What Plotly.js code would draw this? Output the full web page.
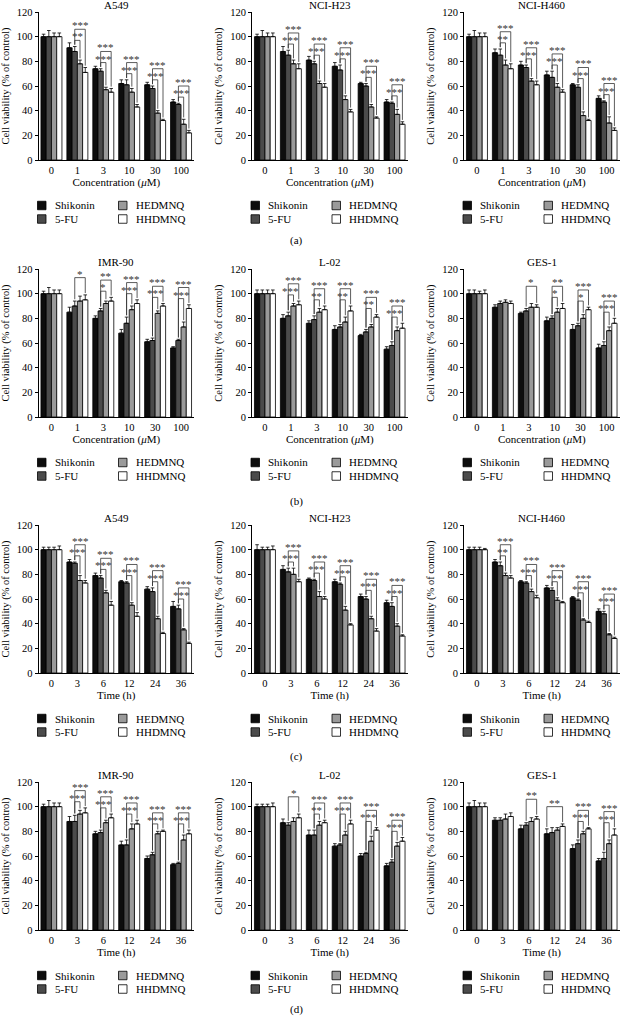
<!DOCTYPE html>
<html><head><meta charset="utf-8">
<script src="https://cdn.plot.ly/plotly-3.0.1.min.js"></script>
<style>body{margin:0;background:#fff}#chart{width:620px;height:1016px}</style>
</head><body><div id="chart"></div>
<script>
// ---------- data ----------
const seriesNames = ['Shikonin', '5-FU', 'HEDMNQ', 'HHDMNQ'];
const seriesColors = ['#0d0d0d', '#4b4b4b', '#9a9a9a', '#ffffff'];
const concLabels = ['0', '1', '3', '10', '30', '100'];
const timeLabels = ['0', '3', '6', '12', '24', '36'];
const panelLetters = ['(a)', '(b)', '(c)', '(d)'];
const yTicks = [0, 20, 40, 60, 80, 100, 120];

// (a) concentration, cancer cells  [Shikonin, 5-FU, HEDMNQ, HHDMNQ]
const a549Conc    = [[100,91,74,62,61,47],[100,88,72,61,58,45],[100,78,57,55,38,29],[100,71,55,43,32,22]];
const a549ConcErr = [[2,4,2,3,2,2],[5,4,2,4,2,1],[3,3,2,3,2,4],[3,4,3,2,1,2]];
const h23Conc     = [[100,88,81,76,62,47],[100,85,78,73,60,46],[100,78,62,49,43,37],[100,74,59,39,34,29]];
const h23ConcErr  = [[2,4,3,3,1,2],[5,4,2,4,2,1],[3,3,2,3,2,4],[3,4,3,2,1,2]];
const h460Conc    = [[100,87,77,69,61,50],[100,85,75,67,59,47],[100,77,64,59,36,30],[100,74,61,55,32,24]];
const h460ConcErr = [[2,3,3,3,1,2],[5,5,2,5,2,1],[3,4,2,3,3,5],[3,4,3,2,1,2]];
// (b) concentration, normal cells
const imr90Conc    = [[100,85,80,68,61,56],[100,90,86,76,62,62],[100,94,92,87,84,73],[100,95,94,92,90,88]];
const imr90ConcErr = [[2,4,2,3,2,1],[5,4,2,5,2,1],[3,4,2,3,2,4],[3,4,3,3,2,3]];
const l02Conc      = [[100,80,76,71,66,55],[100,82,79,73,69,58],[100,90,85,77,73,70],[100,91,87,86,81,72]];
const l02ConcErr   = [[3,3,2,3,1,2],[3,3,3,2,2,3],[3,2,3,4,2,3],[3,3,3,4,2,4]];
const ges1Conc     = [[100,89,84,78,71,56],[100,92,86,80,74,58],[100,93,89,85,80,70],[100,92,89,88,87,76]];
const ges1ConcErr  = [[3,2,1,3,4,3],[3,2,2,2,2,3],[2,2,3,3,3,3],[3,2,2,4,2,4]];
// (c) time, cancer cells
const a549Time    = [[100,90,79,74,68,54],[100,89,77,73,66,52],[100,75,65,55,44,35],[100,73,55,46,32,24]];
const a549TimeErr = [[2,2,2,1,2,4],[2,1,2,1,3,3],[2,4,2,2,2,1],[3,2,3,3,1,1]];
const h23Time     = [[100,84,76,74,62,57],[100,82,75,72,60,54],[100,80,62,51,44,38],[100,74,60,39,34,30]];
const h23TimeErr  = [[4,3,1,2,2,2],[2,3,1,1,2,3],[2,5,4,3,2,2],[3,2,2,1,2,1]];
const h460Time    = [[100,90,74,69,61,50],[100,87,73,67,59,48],[100,79,66,59,43,31],[100,77,61,57,41,28]];
const h460TimeErr = [[2,2,1,2,1,2],[2,3,1,2,1,2],[2,2,2,2,1,1],[1,2,2,1,1,1]];
// (d) time, normal cells
const imr90Time    = [[100,88,78,69,58,53],[100,88,79,69,61,54],[100,94,87,82,78,73],[100,95,91,86,80,78]];
const imr90TimeErr = [[2,4,2,3,2,1],[5,5,2,4,2,1],[3,3,2,4,2,4],[3,4,3,3,1,3]];
const l02Time      = [[100,87,77,68,60,52],[100,85,77,69,62,55],[100,88,85,77,72,68],[100,91,87,86,81,72]];
const l02TimeErr   = [[2,3,4,2,2,2],[2,2,4,1,1,2],[2,3,3,3,4,3],[3,3,2,3,2,3]];
const ges1Time     = [[100,89,82,78,66,56],[100,89,85,79,70,58],[100,90,88,81,78,70],[100,92,90,84,82,77]];
const ges1TimeErr  = [[3,2,3,4,3,2],[5,2,2,4,3,5],[3,4,3,2,2,3],[3,3,2,2,1,5]];

// significance brackets: [group, fromBar, toBar, level, label]
const a549ConcSig = [[1,1,3,1,'***'],[1,1,2,0,'**'],[2,1,3,1,'***'],[2,1,2,0,'***'],[3,1,3,1,'***'],[3,1,2,0,'***'],[4,1,3,1,'***'],[4,1,2,0,'***'],[5,1,3,1,'***'],[5,1,2,0,'***']];
const h23ConcSig  = [[1,1,3,1,'***'],[1,1,2,0,'***'],[2,1,3,1,'***'],[2,1,2,0,'***'],[3,1,3,1,'***'],[3,1,2,0,'***'],[4,1,3,1,'***'],[4,1,2,0,'***'],[5,1,3,1,'***'],[5,1,2,0,'***']];
const h460ConcSig = [[1,1,3,1,'***'],[1,1,2,0,'**'],[2,1,3,1,'***'],[2,1,2,0,'***'],[3,1,3,1,'***'],[3,1,2,0,'***'],[4,1,3,1,'***'],[4,1,2,0,'***'],[5,1,3,1,'***'],[5,1,2,0,'***']];
const imr90ConcSig = [[1,1,3,1,'*'],[2,1,3,1,'**'],[2,1,2,0,'*'],[3,1,3,1,'***'],[3,1,2,0,'***'],[4,1,3,1,'***'],[4,1,2,0,'***'],[5,1,3,1,'***'],[5,1,2,0,'***']];
const l02ConcSig  = [[1,1,3,1,'***'],[1,1,2,0,'***'],[2,1,3,1,'***'],[2,1,2,0,'**'],[3,1,3,1,'***'],[3,1,2,0,'**'],[4,1,3,1,'***'],[4,1,2,0,'**'],[5,1,3,1,'***'],[5,1,2,0,'***']];
const ges1ConcSig = [[2,1,3,1,'*'],[3,1,3,1,'**'],[3,1,2,0,'*'],[4,1,3,1,'***'],[4,1,2,0,'*'],[5,1,3,1,'***'],[5,1,2,0,'***']];
const a549TimeSig = [[1,1,3,1,'***'],[1,1,2,0,'***'],[2,1,3,1,'***'],[2,1,2,0,'***'],[3,1,3,1,'***'],[3,1,2,0,'***'],[4,1,3,1,'***'],[4,1,2,0,'***'],[5,1,3,1,'***'],[5,1,2,0,'***']];
const h23TimeSig  = [[1,1,3,1,'***'],[1,1,2,0,'***'],[2,1,3,1,'***'],[2,1,2,0,'***'],[3,1,3,1,'***'],[3,1,2,0,'***'],[4,1,3,1,'***'],[4,1,2,0,'***'],[5,1,3,1,'***'],[5,1,2,0,'***']];
const h460TimeSig = [[1,1,3,1,'***'],[1,1,2,0,'**'],[2,1,3,1,'***'],[2,1,2,0,'***'],[3,1,3,1,'***'],[3,1,2,0,'***'],[4,1,3,1,'***'],[4,1,2,0,'***'],[5,1,3,1,'***'],[5,1,2,0,'***']];
const imr90TimeSig = [[1,1,3,1,'***'],[1,1,2,0,'***'],[2,1,3,1,'***'],[2,1,2,0,'***'],[3,1,3,1,'***'],[3,1,2,0,'***'],[4,1,3,1,'***'],[4,1,2,0,'***'],[5,1,3,1,'***'],[5,1,2,0,'***']];
const l02TimeSig  = [[1,1,3,1,'*'],[2,1,3,1,'***'],[2,1,2,0,'**'],[3,1,3,1,'***'],[3,1,2,0,'***'],[4,1,3,1,'***'],[4,1,2,0,'***'],[5,1,3,1,'***'],[5,1,2,0,'***']];
const ges1TimeSig = [[2,1,3,1,'**'],[3,0,3,1,'**'],[4,1,3,1,'***'],[4,1,2,0,'***'],[5,1,3,1,'***'],[5,1,2,0,'***']];

const concTitle = 'Concentration (<i>μ</i>M)';
const timeTitle = 'Time (h)';
const yTitle = 'Cell viability (% of control)';

const panels = [
  {name:'A549',     labels:concLabels, xt:concTitle, v:a549Conc,  e:a549ConcErr,  s:a549ConcSig},
  {name:'NCI-H23',  labels:concLabels, xt:concTitle, v:h23Conc,   e:h23ConcErr,   s:h23ConcSig},
  {name:'NCI-H460', labels:concLabels, xt:concTitle, v:h460Conc,  e:h460ConcErr,  s:h460ConcSig},
  {name:'IMR-90',   labels:concLabels, xt:concTitle, v:imr90Conc, e:imr90ConcErr, s:imr90ConcSig},
  {name:'L-02',     labels:concLabels, xt:concTitle, v:l02Conc,   e:l02ConcErr,   s:l02ConcSig},
  {name:'GES-1',    labels:concLabels, xt:concTitle, v:ges1Conc,  e:ges1ConcErr,  s:ges1ConcSig},
  {name:'A549',     labels:timeLabels, xt:timeTitle, v:a549Time,  e:a549TimeErr,  s:a549TimeSig},
  {name:'NCI-H23',  labels:timeLabels, xt:timeTitle, v:h23Time,   e:h23TimeErr,   s:h23TimeSig},
  {name:'NCI-H460', labels:timeLabels, xt:timeTitle, v:h460Time,  e:h460TimeErr,  s:h460TimeSig},
  {name:'IMR-90',   labels:timeLabels, xt:timeTitle, v:imr90Time, e:imr90TimeErr, s:imr90TimeSig},
  {name:'L-02',     labels:timeLabels, xt:timeTitle, v:l02Time,   e:l02TimeErr,   s:l02TimeSig},
  {name:'GES-1',    labels:timeLabels, xt:timeTitle, v:ges1Time,  e:ges1TimeErr,  s:ges1TimeSig}
];

// ---------- layout geometry ----------
const W = 620, H = 1016;
const FONT = '"Liberation Serif", "DejaVu Serif", serif';
const colLeft = [38.5, 252, 464], colW = 155.5;
const rowTop = [12, 269, 525, 782], rowH = 148;
const letterY = [240, 501, 756, 1009];
const BARGAP = 0.19;
const barW = (1 - BARGAP) / 4;
const barOffset = i => (i - 1.5) * barW;
const legendItems = [[0,0,0],[2,0,1],[1,1,0],[3,1,1]]; // [series,row,col]

const traces = [], shapes = [], annotations = [];
const layout = {
  width: W, height: H, margin: {l:0, r:0, t:0, b:0},
  paper_bgcolor: '#ffffff', plot_bgcolor: 'rgba(0,0,0,0)',
  showlegend: false, barmode: 'group', bargap: BARGAP, bargroupgap: 0,
  font: {family: FONT, size: 10, color: '#000'}
};

panels.forEach((p, k) => {
  const r = Math.floor(k / 3), c = k % 3, n = k + 1;
  const sfx = n > 1 ? String(n) : '';
  const xa = 'x' + sfx, ya = 'y' + sfx;
  const left = colLeft[c], top = rowTop[r], bottom = top + rowH;
  layout['xaxis' + sfx] = {
    domain: [left / W, (left + colW) / W], anchor: ya, type: 'category',
    range: [-0.5, 5.5], showline: true, linecolor: '#000', linewidth: 1,
    ticks: '', tickfont: {size: 10.5}, showgrid: false, zeroline: false,
    title: {text: p.xt, font: {size: 11}, standoff: 3}
  };
  layout['yaxis' + sfx] = {
    domain: [1 - bottom / H, 1 - top / H], anchor: xa, range: [0, 120],
    tickvals: yTicks, ticks: 'outside', ticklen: 3, tickwidth: 1, tickcolor: '#000',
    showline: true, linecolor: '#000', linewidth: 1, showgrid: false, zeroline: false,
    tickfont: {size: 10.5}, title: {text: yTitle, font: {size: 10.5}, standoff: 5}
  };
  p.v.forEach((vals, si) => {
    traces.push({
      type: 'bar', name: seriesNames[si], x: p.labels, y: vals,
      xaxis: xa, yaxis: ya, showlegend: false, hoverinfo: 'skip',
      marker: {color: seriesColors[si], line: {color: '#000', width: 0.8}},
      error_y: {type: 'data', symmetric: false, array: p.e[si], arrayminus: vals.map(() => 0),
                color: '#000', thickness: 0.8, width: 1.8}
    });
  });
  // title
  annotations.push({text: p.name, xref: 'paper', yref: 'paper', x: (left + colW / 2) / W, y: 1 - (top - 7) / H,
    xanchor: 'center', yanchor: 'middle', showarrow: false, font: {size: 11}});
  // significance brackets
  const tops = g => p.v.map((vals, si) => vals[g] + p.e[si][g]);
  p.s.forEach(([g, a, b, lvl, lab]) => {
    const t = tops(g);
    const groupSig = p.s.filter(q => q[0] === g);
    const lo = Math.min(...groupSig.map(q => q[1])), hi = Math.max(...groupSig.map(q => q[2]));
    const base = Math.max(...t.slice(lo, hi + 1)) + 5;
    const yL = base + lvl * 9;
    const x1 = g + barOffset(a), x2 = g + barOffset(b);
    const ln = {color: '#333', width: 0.8};
    shapes.push({type:'line', xref:xa, yref:ya, x0:x1, x1:x2, y0:yL, y1:yL, line:ln});
    shapes.push({type:'line', xref:xa, yref:ya, x0:x1, x1:x1, y0:yL, y1:t[a] + 1.5, line:ln});
    shapes.push({type:'line', xref:xa, yref:ya, x0:x2, x1:x2, y0:yL, y1:t[b] + 1.5, line:ln});
    annotations.push({text: lab, xref: xa, yref: ya, x: (x1 + x2) / 2, y: yL, xanchor: 'center', yanchor: 'bottom',
      yshift: -4, showarrow: false, font: {size: 11, color: '#333'}});
  });
  // legend (manual, two columns)
  legendItems.forEach(([si, lr, lc]) => {
    const sx = left - 1 + lc * 81, sy = bottom + 45.5 + lr * 13.5, sz = 8.5;
    shapes.push({type: 'rect', xref: 'paper', yref: 'paper', x0: sx / W, x1: (sx + sz) / W,
      y0: 1 - (sy - sz / 2) / H, y1: 1 - (sy + sz / 2) / H,
      fillcolor: seriesColors[si], line: {color: '#000', width: 0.8}});
    annotations.push({text: seriesNames[si], xref: 'paper', yref: 'paper', x: (sx + 15) / W, y: 1 - sy / H,
      xanchor: 'left', yanchor: 'middle', showarrow: false, font: {size: 11}});
  });
});
panelLetters.forEach((t, r) => {
  annotations.push({text: t, xref: 'paper', yref: 'paper', x: 296 / W, y: 1 - letterY[r] / H,
    xanchor: 'center', yanchor: 'middle', showarrow: false, font: {size: 11}});
});
layout.shapes = shapes;
layout.annotations = annotations;
Plotly.newPlot('chart', traces, layout, {displayModeBar: false, staticPlot: true});
</script>
</body></html>
